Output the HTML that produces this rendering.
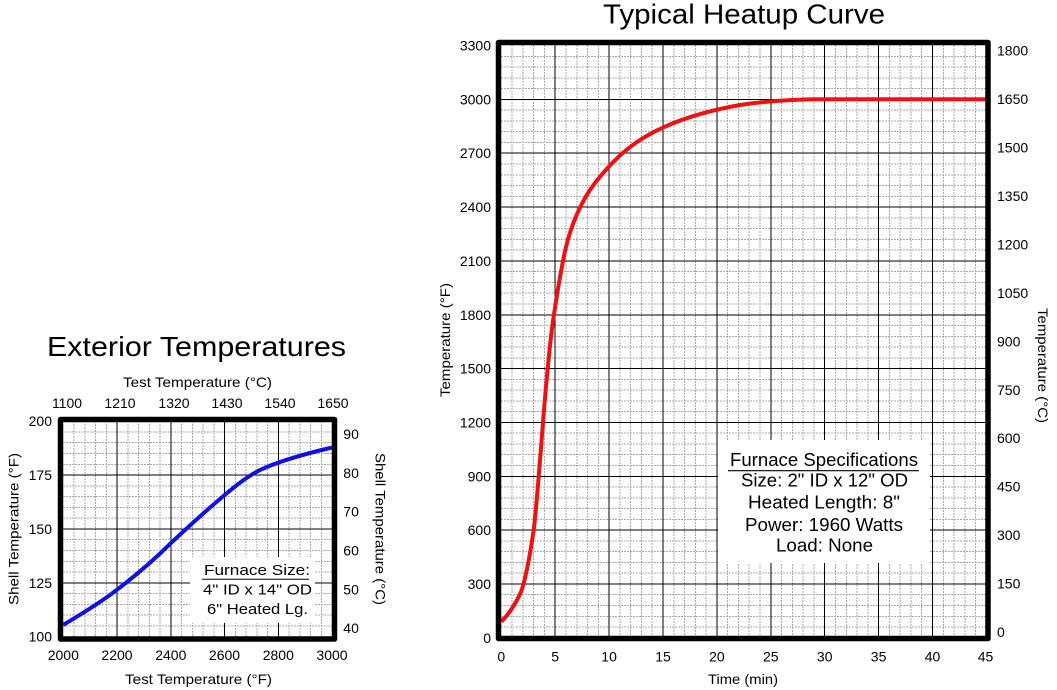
<!DOCTYPE html>
<html><head><meta charset="utf-8"><style>
body{margin:0;background:#fff}
svg{display:block}
text{font-family:"Liberation Sans",Arial,sans-serif;fill:#000}
.t{font-size:14px}
</style></head><body>
<svg width="1057" height="690" viewBox="0 0 1057 690" xmlns="http://www.w3.org/2000/svg">
<rect x="0" y="0" width="1057" height="690" fill="#fff"/>

<!-- ===== RIGHT CHART GRID ===== -->
<g shape-rendering="crispEdges" fill="none">
<path stroke="#aaa" stroke-dasharray="2,1" stroke-width="1" d="M512.1 45V638M522.9 45V638M533.6 45V638M544.4 45V638M566 45V638M576.8 45V638M587.5 45V638M598.3 45V638M619.9 45V638M630.7 45V638M641.4 45V638M652.2 45V638M673.8 45V638M684.6 45V638M695.3 45V638M706.1 45V638M727.7 45V638M738.5 45V638M749.2 45V638M760 45V638M781.6 45V638M792.4 45V638M803.1 45V638M813.9 45V638M835.5 45V638M846.3 45V638M857 45V638M867.8 45V638M889.4 45V638M900.2 45V638M910.9 45V638M921.7 45V638M943.3 45V638M954.1 45V638M964.8 45V638M975.6 45V638"/>
<path stroke="#aaa" stroke-dasharray="2,1" stroke-width="1" d="M501 627H986M501 616.3H986M501 605.5H986M501 594.7H986M501 573.2H986M501 562.4H986M501 551.7H986M501 540.9H986M501 519.4H986M501 508.6H986M501 497.8H986M501 487H986M501 465.5H986M501 454.7H986M501 444H986M501 433.2H986M501 411.7H986M501 400.9H986M501 390.1H986M501 379.4H986M501 357.8H986M501 347.1H986M501 336.3H986M501 325.5H986M501 304H986M501 293.2H986M501 282.5H986M501 271.7H986M501 250.2H986M501 239.4H986M501 228.6H986M501 217.8H986M501 196.3H986M501 185.5H986M501 174.8H986M501 164H986M501 142.5H986M501 131.7H986M501 120.9H986M501 110.2H986M501 88.6H986M501 77.9H986M501 67.1H986M501 56.3H986"/>
<path stroke="#000" stroke-width="1" d="M555.2 45V638M609.1 45V638M663 45V638M716.9 45V638M770.8 45V638M824.7 45V638M878.6 45V638M932.5 45V638M501 584H986M501 530.1H986M501 476.3H986M501 422.4H986M501 368.6H986M501 314.8H986M501 260.9H986M501 207.1H986M501 153.2H986M501 99.4H986"/>
</g>

<!-- ===== LEFT CHART GRID ===== -->
<g shape-rendering="crispEdges" fill="none">
<path stroke="#aaa" stroke-dasharray="2,1" stroke-width="1" d="M74 421V637M84.8 421V637M95.5 421V637M106.3 421V637M127.8 421V637M138.5 421V637M149.3 421V637M160 421V637M181.5 421V637M192.3 421V637M203 421V637M213.8 421V637M235.3 421V637M246 421V637M256.8 421V637M267.5 421V637M289 421V637M299.8 421V637M310.5 421V637M321.3 421V637"/>
<path stroke="#aaa" stroke-dasharray="2,1" stroke-width="1" d="M63 625.9H332M63 615.2H332M63 604.4H332M63 593.6H332M63 572.1H332M63 561.3H332M63 550.5H332M63 539.7H332M63 518.2H332M63 507.4H332M63 496.6H332M63 485.9H332M63 464.3H332M63 453.5H332M63 442.7H332M63 432H332"/>
<path stroke="#000" stroke-width="1" d="M117 421V637M170.8 421V637M224.5 421V637M278.3 421V637M63 582.8H332M63 529H332M63 475.1H332"/>
</g>

<!-- Legend boxes -->
<rect x="718" y="440" width="212" height="123" fill="#fff"/>
<rect x="190" y="557" width="125" height="66" fill="#fff"/>

<!-- Curves -->
<path fill="none" stroke="#ee1111" stroke-width="4" stroke-linejoin="round" d="M501.3,621.7 C508,615 515,605 521,592 C526,578 530,555 533.7,530 C536.5,508 540,460 543,422.3 C546,385 550,340 554,314.3 C558,288 562,262 567,243 C572,224 580,203 594.7,183.3 C606,169 620,153 640,140 C665,124 700,112 740,105 C770,100.5 800,99.3 825,99.3 L986,99.3"/>
<path fill="none" stroke="#1010e6" stroke-width="4" stroke-linejoin="round" d="M63.3,624.9 C80,615 100,603 117,589.7 C135,576 155,559 170.8,543.2 C188,527 208,509 224.5,495.1 C238,484 248,476 260,470 C275,463 300,455 332,447.5"/>

<!-- Frames -->
<rect x="498.5" y="42.5" width="489.5" height="596" fill="none" stroke="#000" stroke-width="5.5" stroke-linejoin="round"/>
<rect x="60.5" y="419.5" width="274" height="219.5" fill="none" stroke="#000" stroke-width="5.5" stroke-linejoin="round"/>

<!-- Legend texts right -->
<text x="824" y="466" font-size="18" text-anchor="middle" textLength="188" lengthAdjust="spacingAndGlyphs">Furnace Specifications</text>
<line x1="728" y1="470.7" x2="919" y2="470.7" stroke="#000" stroke-width="1.2"/>
<text x="824.5" y="486.7" font-size="18" text-anchor="middle" textLength="167" lengthAdjust="spacingAndGlyphs">Size: 2" ID x 12" OD</text>
<text x="824" y="508.7" font-size="18" text-anchor="middle" textLength="152" lengthAdjust="spacingAndGlyphs">Heated Length: 8"</text>
<text x="824" y="531" font-size="18" text-anchor="middle" textLength="158" lengthAdjust="spacingAndGlyphs">Power: 1960 Watts</text>
<text x="824.5" y="551.7" font-size="18" text-anchor="middle" textLength="97" lengthAdjust="spacingAndGlyphs">Load: None</text>

<!-- Legend texts left -->
<text x="257" y="575" font-size="15" text-anchor="middle" textLength="106" lengthAdjust="spacingAndGlyphs">Furnace Size:</text>
<line x1="202" y1="579.3" x2="309" y2="579.3" stroke="#000" stroke-width="1"/>
<text x="257.5" y="594.3" font-size="15" text-anchor="middle" textLength="109" lengthAdjust="spacingAndGlyphs">4" ID x 14" OD</text>
<text x="257.5" y="614" font-size="15" text-anchor="middle" textLength="101" lengthAdjust="spacingAndGlyphs">6" Heated Lg.</text>

<!-- Titles -->
<text x="744" y="23.3" font-size="28" text-anchor="middle" textLength="282" lengthAdjust="spacingAndGlyphs">Typical Heatup Curve</text>
<text x="196.5" y="356" font-size="28" text-anchor="middle" textLength="299" lengthAdjust="spacingAndGlyphs">Exterior Temperatures</text>

<!-- Right chart left ticks -->
<g class="t" text-anchor="end">
<text x="491" y="643">0</text>
<text x="491" y="589">300</text>
<text x="491" y="535.1">600</text>
<text x="491" y="481.3">900</text>
<text x="491" y="427.4">1200</text>
<text x="491" y="373.6">1500</text>
<text x="491" y="319.8">1800</text>
<text x="491" y="265.9">2100</text>
<text x="491" y="212.1">2400</text>
<text x="491" y="158.2">2700</text>
<text x="491" y="104.4">3000</text>
<text x="491" y="50.6">3300</text>
</g>
<!-- Right chart right ticks -->
<g class="t">
<text x="997" y="637.1">0</text>
<text x="997" y="588.6">150</text>
<text x="997" y="540.1">300</text>
<text x="997" y="491.7">450</text>
<text x="997" y="443.2">600</text>
<text x="997" y="394.8">750</text>
<text x="997" y="346.3">900</text>
<text x="997" y="297.9">1050</text>
<text x="997" y="249.4">1200</text>
<text x="997" y="201">1350</text>
<text x="997" y="152.5">1500</text>
<text x="997" y="104">1650</text>
<text x="997" y="55.6">1800</text>
</g>
<!-- Right chart bottom ticks -->
<g class="t" text-anchor="middle">
<text x="501.3" y="661.7">0</text>
<text x="555.2" y="661.7">5</text>
<text x="609.1" y="661.7">10</text>
<text x="663" y="661.7">15</text>
<text x="716.9" y="661.7">20</text>
<text x="770.8" y="661.7">25</text>
<text x="824.7" y="661.7">30</text>
<text x="878.6" y="661.7">35</text>
<text x="932.5" y="661.7">40</text>
<text x="985.5" y="661.7">45</text>
</g>
<text class="t" x="743" y="684" text-anchor="middle" textLength="70" lengthAdjust="spacingAndGlyphs">Time (min)</text>
<text class="t" transform="translate(450,340) rotate(-90)" text-anchor="middle" textLength="114" lengthAdjust="spacingAndGlyphs">Temperature (°F)</text>
<text class="t" transform="translate(1038,365.5) rotate(90)" text-anchor="middle" textLength="115" lengthAdjust="spacingAndGlyphs">Temperature (°C)</text>

<!-- Left chart ticks -->
<g class="t" text-anchor="end">
<text x="52" y="426.2">200</text>
<text x="52" y="480.1">175</text>
<text x="52" y="534">150</text>
<text x="52" y="587.8">125</text>
<text x="52" y="641.7">100</text>
</g>
<g class="t">
<text x="343.3" y="439.1">90</text>
<text x="343.3" y="477.9">80</text>
<text x="343.3" y="516.7">70</text>
<text x="343.3" y="555.5">60</text>
<text x="343.3" y="594.3">50</text>
<text x="343.3" y="633.1">40</text>
</g>
<g class="t" text-anchor="middle">
<text x="63.3" y="660">2000</text>
<text x="117" y="660">2200</text>
<text x="170.8" y="660">2400</text>
<text x="224.5" y="660">2600</text>
<text x="278.3" y="660">2800</text>
<text x="332" y="660">3000</text>
<text x="67" y="408">1100</text>
<text x="120" y="408">1210</text>
<text x="174" y="408">1320</text>
<text x="227" y="408">1430</text>
<text x="280" y="408">1540</text>
<text x="333" y="408">1650</text>
</g>
<text class="t" x="197.5" y="387" text-anchor="middle" textLength="149" lengthAdjust="spacingAndGlyphs">Test Temperature (°C)</text>
<text class="t" x="198.5" y="684" text-anchor="middle" textLength="147" lengthAdjust="spacingAndGlyphs">Test Temperature (°F)</text>
<text class="t" transform="translate(18.3,529) rotate(-90)" text-anchor="middle" textLength="152" lengthAdjust="spacingAndGlyphs">Shell Temperature (°F)</text>
<text class="t" transform="translate(375.5,529) rotate(90)" text-anchor="middle" textLength="152" lengthAdjust="spacingAndGlyphs">Shell Temperature (°C)</text>
</svg>
</body></html>
